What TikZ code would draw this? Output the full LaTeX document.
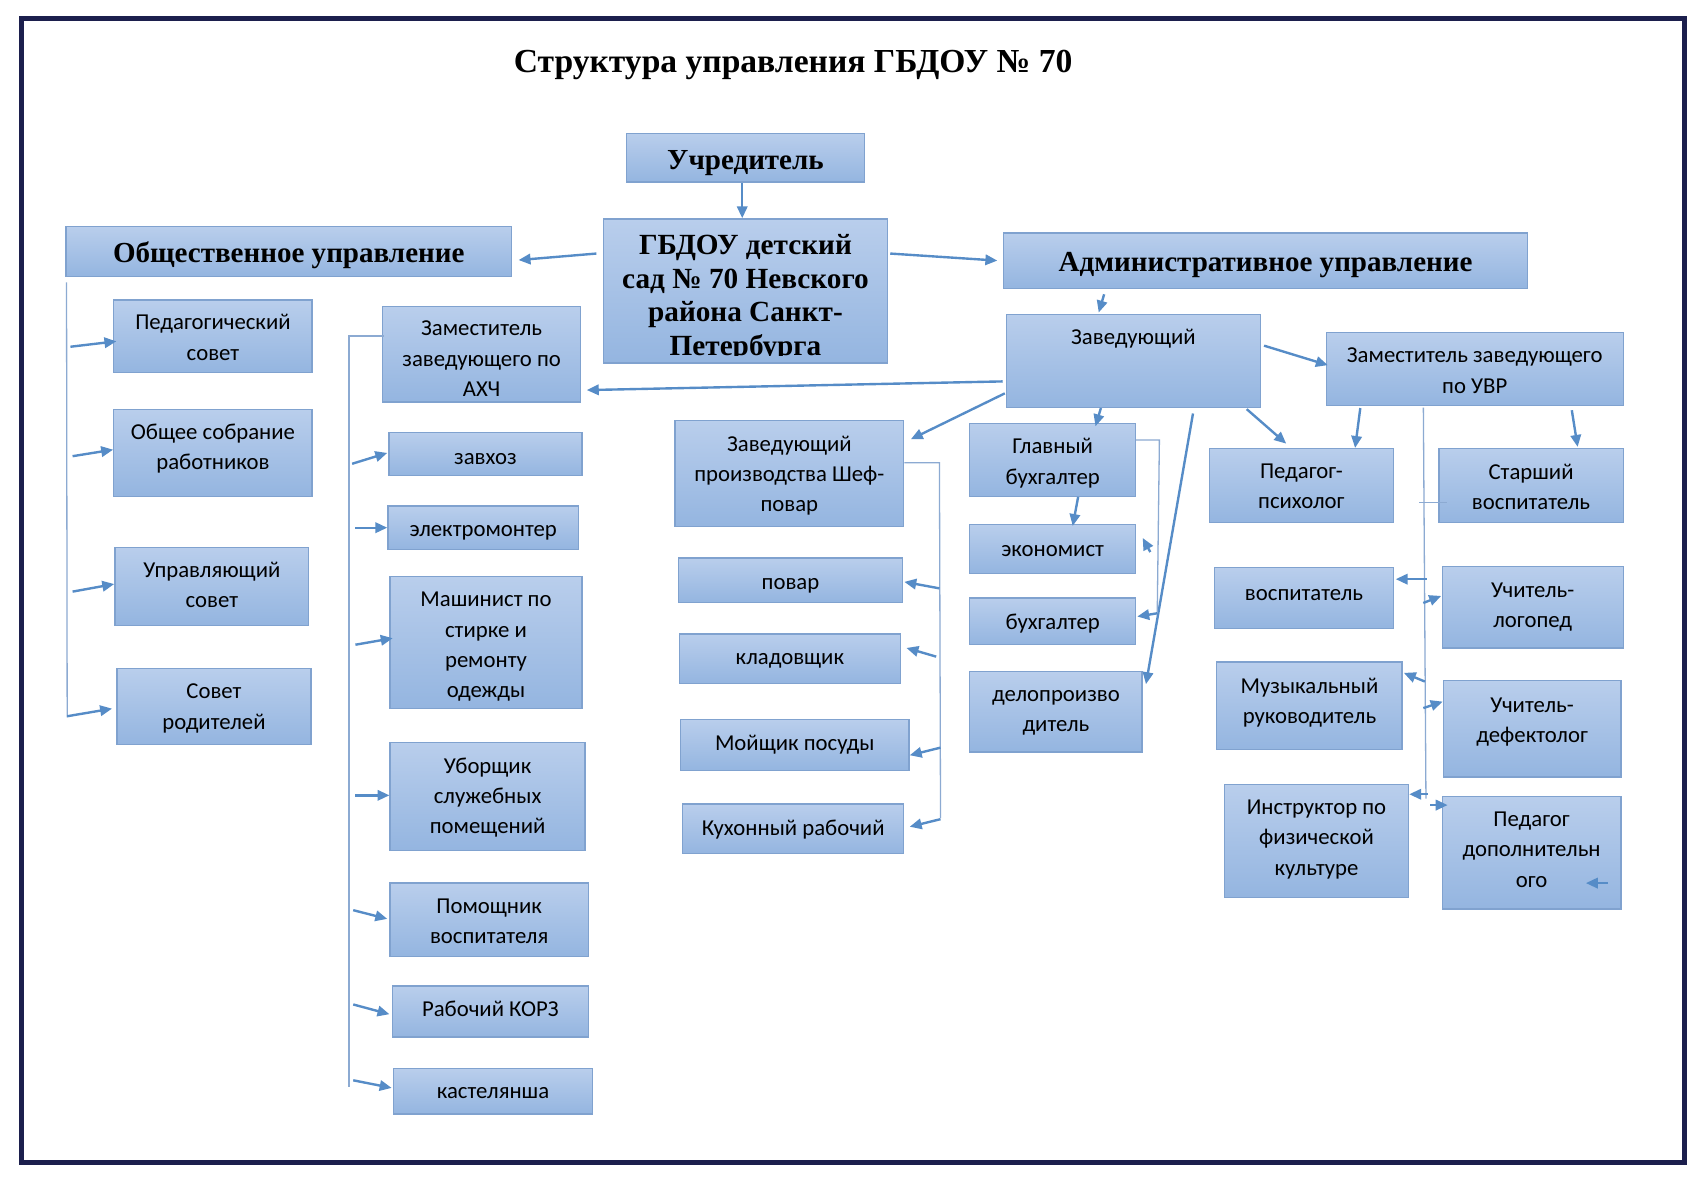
\documentclass[tikz,border=0pt]{standalone}
\usepackage{fontspec}
\setmainfont{Liberation Serif}
\newfontfamily\bodyf{Carlito}
\usetikzlibrary{arrows.meta}
\definecolor{boxtop}{RGB}{185,206,236}
\definecolor{boxbot}{RGB}{148,181,224}
\definecolor{boxline}{RGB}{128,162,207}
\definecolor{arrc}{RGB}{86,140,199}
\definecolor{thinc}{RGB}{140,170,210}
\definecolor{framec}{RGB}{28,31,77}
\tikzset{
 box/.style={draw=boxline, line width=0.6pt, top color=boxtop, bottom color=boxbot, inner sep=0pt},
 btxt/.style={inner sep=0pt, align=center, font=\bodyf\fontsize{10.5}{14}\selectfont, text=black},
 htxt/.style={inner sep=0pt, align=center, font=\bfseries\fontsize{13.4}{15.5}\selectfont, text=black},
 arr/.style={draw=arrc, line width=1.1pt, -{Triangle[length=5.5pt,width=4.8pt]}},
 thinline/.style={draw=thinc, line width=0.6pt},
}
% [text style]{x1}{y1}{x2}{y2}{name}{text}{text offset}
\newcommand\mybox[8][btxt]{%
 \node[box, minimum width=#4*0.5pt-#2*0.5pt, minimum height=#5*0.5pt-#3*0.5pt] (#6) at ({(#2+#4)/2},{(#3+#5)/2}) {};
 \node[#1] (#6t) at ([shift={(0,#8)}]#6.center) {#7};}
\begin{document}
\begin{tikzpicture}[x=0.5pt,y=-0.5pt]
\useasboundingbox (0,0) rectangle (1568,1097.4);
\fill[white] (0,0) rectangle (1568,1097.4);
\draw[draw=framec, line width=2.3pt] (20,17) rectangle (1555,1073);
\node[font=\bfseries\fontsize{15.5}{18}\selectfont] (title) at (732,60) {Структура управления ГБДОУ № 70};
% top
\mybox[htxt]{578}{123}{798}{168}{uchr}{Учредитель}{5}
\node[box, minimum width=131pt, minimum height=66.5pt] (gbdou) at (688,268.5) {};
\begin{scope}
\clip (557,202) rectangle (819,328);
\node[htxt, font=\bfseries\fontsize{13.5}{15.5}\selectfont] (gbdout) at (688,275) {ГБДОУ детский\\сад № 70 Невского\\района Санкт-\\Петербурга};
\end{scope}
\mybox[htxt]{61}{209}{472}{255}{obsh}{Общественное управление}{4}
\mybox[htxt]{926}{215}{1410}{266}{adm}{Административное управление}{4}
\node[box, minimum width=117pt, minimum height=43pt] (zav) at (1046,333) {};
\node[btxt] (zavt) at (1046,313) {Заведующий};
\mybox{1224}{307}{1498}{374}{zuvr}{Заместитель заведующего\\по УВР}{1.5}
% left column
\mybox{105}{277}{288}{344}{pedsov}{Педагогический\\совет}{1}
\mybox{105}{378}{288}{458}{sobr}{Общее собрание\\работников}{-4}
\mybox{106}{505}{285}{577}{upr}{Управляющий\\совет}{-1}
\mybox{108}{617}{287}{687}{rod}{Совет\\родителей}{2}
% AXCh column
\mybox{353}{283}{536}{371}{axch}{Заместитель\\заведующего по\\АХЧ}{4}
\mybox{359}{399}{537}{439}{zavhoz}{завхоз}{5}
\mybox{358}{467}{534}{507}{elektr}{электромонтер}{5}
\mybox{360}{532}{537}{654}{mash}{Машинист по\\стирке и\\ремонту\\одежды}{4}
\mybox{360}{685}{540}{785}{ubor}{Уборщик\\служебных\\помещений}{1}
\mybox{360}{815}{543}{883}{pom}{Помощник\\воспитателя}{1.5}
\mybox{362}{910}{543}{957}{korz}{Рабочий КОРЗ}{-2}
\mybox{363}{986}{547}{1028}{kast}{кастелянша}{2}
% kitchen
\mybox{623}{388}{834}{486}{shef}{Заведующий\\производства Шеф-\\повар}{2}
\mybox{626}{515}{833}{556}{povar}{повар}{5}
\mybox{627}{585}{831}{631}{klad}{кладовщик}{2}
\mybox{628}{664}{839}{711}{moy}{Мойщик посуды}{0}
\mybox{630}{742}{834}{788}{kuh}{Кухонный рабочий}{1}
% accounting
\mybox{895}{391}{1048}{458}{glb}{Главный\\бухгалтер}{3}
\mybox{895}{484}{1048}{529}{ekon}{экономист}{2}
\mybox{895}{552}{1048}{595}{buh}{бухгалтер}{2}
\mybox{895}{620}{1054}{694}{delo}{делопроизво\\дитель}{1}
% pedagogical
\mybox{1116}{414}{1286}{482}{psih}{Педагог-\\психолог}{1}
\mybox{1328}{414}{1498}{482}{star}{Старший\\воспитатель}{1.5}
\mybox{1121}{524}{1286}{580}{vosp}{воспитатель}{-3}
\mybox{1331}{523}{1498}{598}{logo}{Учитель-\\логопед}{0}
\mybox{1123}{611}{1294}{692}{muz}{Музыкальный\\руководитель}{-3}
\mybox{1332}{628}{1496}{717}{defe}{Учитель-\\дефектолог}{-6}
\mybox{1130}{724}{1300}{828}{instr}{Инструктор по\\физической\\культуре}{-1.5}
\mybox{1331}{735}{1496}{839}{pdo}{Педагог\\дополнительн\\ого}{-3}
% main connectors
\draw[arr] ([shift={(-3,0)}]uchr.south) -- ([shift={(-3,0)}]gbdou.north);
\draw[arr] ([shift={(-6,-34.5)}]gbdou.west) -- ([shift={(6,8)}]obsh.east);
\draw[arr] ([shift={(2,-34.5)}]gbdou.east) -- ([shift={(-5,0)}]adm.west);
\draw[arr] ([shift={(-149,5)}]adm.south) -- ([shift={(-32,-1)}]zav.north);
\draw[arr] ([shift={(-3,19)}]zav.west) -- ([shift={(5,33)}]axch.east);
\draw[arr] ([shift={(-1,30)}]zav.west) -- ([shift={(6,18)}]shef.north east);
\draw[arr] ([shift={(-30,0)}]zav.south) -- ([shift={(39.5,3)}]glb.north);
\draw[arr] ([shift={(-13,1)}]zav.south east) -- ([shift={(-14,-4)}]psih.north);
\draw[arr] ([shift={(3,-14)}]zav.east) -- ([shift={(2,-3.5)}]zuvr.west);
\draw[arr] ([shift={(55,5)}]zav.south) -- ([shift={(3,12)}]delo.north east);
\draw[arr] ([shift={(23.5,0)}]glb.south) -- ([shift={(18.5,2)}]ekon.north);
\draw[arr] ([shift={(32,2)}]zuvr.south west) -- ([shift={(-36,0)}]psih.north east);
\draw[arr] ([shift={(-48,4)}]zuvr.south east) -- ([shift={(43,-1)}]star.north);
% accounting bracket
\coordinate (gbA) at (1070,406);
\coordinate (gbB) at (1068,566);
\draw[thinline] ([shift={(0,-18.5)}]glb.east) -- (gbA) -- (gbB);
\draw[arr] (gbB) -- ([shift={(1,-4.5)}]buh.east);
\draw[arr] ([shift={(13,3)}]ekon.east) -- ([shift={(6,-10)}]ekon.east);
% kitchen bracket
\coordinate (sbA) at (867,427);
\coordinate (sbB) at (868,755);
\draw[thinline] ([shift={(0,-10)}]shef.east) -- (sbA) -- (sbB);
\coordinate (sb1) at (867,543);
\coordinate (sb2) at (864,606);
\coordinate (sb3) at (868,690);
\coordinate (sb4) at (868,756);
\draw[arr] (sb1) -- ([shift={(1,1.5)}]povar.east);
\draw[arr] (sb2) -- ([shift={(5,-10)}]klad.east);
\draw[arr] (sb3) -- ([shift={(0,9.5)}]moy.east);
\draw[arr] (sb4) -- ([shift={(5,-2)}]kuh.east);
% AXCh bracket
\coordinate (abT) at (322,310);
\coordinate (abB) at (322,1003);
\draw[thinline] (abB) -- (abT) -- ([shift={(2,-17)}]axch.west);
\coordinate (a1) at (325,428);
\coordinate (a2) at (328,487);
\coordinate (a3) at (328,595);
\coordinate (a4) at (328,734);
\coordinate (a5) at (326,840);
\coordinate (a6) at (326,927);
\coordinate (a7) at (326,997);
\draw[arr] (a1) -- ([shift={(-1,-1)}]zavhoz.west);
\draw[arr] (a2) -- (elektr.west);
\draw[arr] (a3) -- ([shift={(3,-4)}]mash.west);
\draw[arr] (a4) -- ([shift={(0,-1)}]ubor.west);
\draw[arr] (a5) -- ([shift={(-2,-1)}]pom.west);
\draw[arr] (a6) -- ([shift={(-2,2.5)}]korz.west);
\draw[arr] (a7) -- ([shift={(-1,-3)}]kast.west);
% public bracket
\coordinate (obB) at (62,662);
\draw[thinline] ([shift={(1,5)}]obsh.south west) -- (obB);
\coordinate (o1) at (65,320);
\coordinate (o2) at (67,421);
\coordinate (o3) at (67,546);
\coordinate (o4) at (62,661);
\draw[arr] (o1) -- ([shift={(3,4.5)}]pedsov.west);
\draw[arr] (o2) -- ([shift={(0,-3)}]sobr.west);
\draw[arr] (o3) -- ([shift={(0,-2)}]upr.west);
\draw[arr] (o4) -- ([shift={(-4,2)}]rod.west);
% UVR bracket
\coordinate (ubB) at (1316,737);
\coordinate (ub0) at (1310,464);
\draw[thinline] ([shift={(-47.4,1.5)}]zuvr.south) -- (ubB);
\draw[thinline] (ub0) -- ([shift={(8,16)}]star.west);
\coordinate (u1) at (1316.7,534.5);
\coordinate (u2) at (1313.5,556.5);
\coordinate (u3) at (1315,629);
\coordinate (u4) at (1313.6,653.5);
\coordinate (u5) at (1318,733);
\coordinate (u6) at (1320,743);
\draw[arr] (u1) -- ([shift={(1.5,-17.5)}]vosp.east);
\draw[arr] (u2) -- ([shift={(-0.4,-10.5)}]logo.west);
\draw[arr] (u3) -- ([shift={(1,-30.5)}]muz.east);
\draw[arr] (u4) -- ([shift={(0,-25)}]defe.west);
\draw[arr] (u5) -- ([shift={(0,-43)}]instr.east);
\draw[arr] (u6) -- ([shift={(5.6,-44)}]pdo.west);
\draw[arr] ([shift={(-13,28)}]pdo.east) -- ([shift={(-33,28)}]pdo.east);
\end{tikzpicture}
\end{document}
